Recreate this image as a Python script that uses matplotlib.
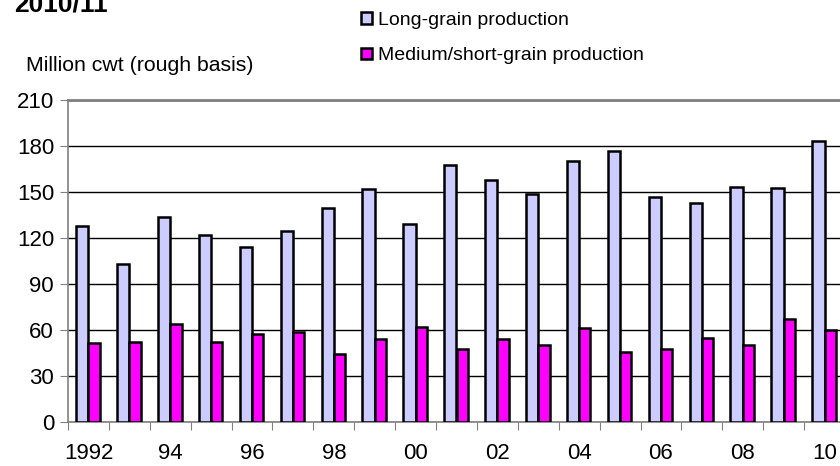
import numpy as np
import matplotlib
matplotlib.use("Agg")
import matplotlib.pyplot as plt

plt.rcParams['font.family'] = ['Liberation Sans', 'DejaVu Sans']

# crop years 1992 .. 2010
years = list(range(1992, 2011))
long_grain = [128, 103, 133.5, 122, 114, 124.5, 139.5, 152, 129, 167.5,
              157.5, 149, 170.5, 177, 147, 143, 153, 152.5, 183]
medium_short = [51.5, 52.5, 64, 52, 57.5, 58.5, 44.5, 54, 62, 47.5,
                54, 50.5, 61.5, 45.5, 47.5, 55, 50, 67, 60]
year_labels = ['1992', '94', '96', '98', '00', '02', '04', '06', '08', '10']
yticks = [0, 30, 60, 90, 120, 150, 180, 210]

fig = plt.figure(figsize=(8.4, 4.66), dpi=100)
# plot area runs a bit past the right edge of the picture
ax = fig.add_axes([68 / 840, 44 / 466, 777 / 840, 322 / 466])

x = np.arange(len(years))
w = 0.3
ax.bar(x - w, long_grain, width=w, align='edge', color='#ccccff',
       edgecolor='black', linewidth=1.8, label='Long-grain production', zorder=3)
ax.bar(x, medium_short, width=w * 0.92, align='edge', color='#ff00ff',
       edgecolor='black', linewidth=1.8, label='Medium/short-grain production', zorder=3)

ax.set_xlim(-0.5, len(years) - 0.5)
ax.set_ylim(0, 210)
ax.set_yticks(yticks)
ax.yaxis.grid(True, color='black', linewidth=1.0, zorder=0)
ax.tick_params(axis='y', labelsize=16, length=6, color='#808080', pad=4)

# tick marks between categories, labels every other year at the centre
ax.set_xticks(np.arange(-0.5, len(years), 1.0))
ax.set_xticklabels([])
ax.tick_params(axis='x', which='major', length=6, color='#808080')
ax.set_xticks(x[::2], minor=True)
ax.set_xticklabels(year_labels, minor=True)
ax.tick_params(axis='x', which='minor', length=0, labelsize=16, pad=15)

for s in ['left', 'bottom', 'top']:
    ax.spines[s].set_color('#808080')
    ax.spines[s].set_linewidth(1.2)
ax.spines['top'].set_linewidth(2)
ax.spines['right'].set_visible(False)

fig.text(26 / 840, 1 - 71 / 466, 'Million cwt (rough basis)', fontsize=15.3, va='baseline')
fig.text(14 / 840, 1 - 12 / 466, '2010/11', fontsize=19, fontweight='bold', va='baseline')

fig.legend(loc='upper left', bbox_to_anchor=(361 / 840, 1 - 12 / 466),
           frameon=False, fontsize=14, handlelength=0.55, handleheight=0.55,
           handletextpad=0.3, labelspacing=0.95, borderpad=0, borderaxespad=0)

fig.savefig('out.png', dpi=100)
